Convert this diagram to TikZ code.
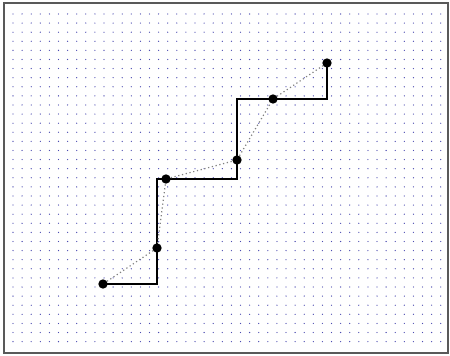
\documentclass[tikz,border=0pt]{standalone}
\begin{document}
\begin{tikzpicture}[x=0.75pt,y=-0.75pt,
  punto/.style={circle,fill=black,inner sep=0pt,minimum size=7pt}]
  \useasboundingbox (0,0) rectangle (450,356);
  \fill[white] (0,0) rectangle (450,356);
  % rejilla de puntos
  \foreach \i in {0,...,47}
    \foreach \j in {0,...,36}
      \fill[blue!40!gray] (13+9.1*\i,14+9.1*\j) circle (0.65);
  \draw[gray!70!black,line width=1.2] (4,3) rectangle (448,353);
  % puntos
  \node[punto] (p1) at (103,284) {};
  \node[punto] (p2) at (157,248) {};
  \node[punto] (p3) at (166,179) {};
  \node[punto] (p4) at (237,160) {};
  \node[punto] (p5) at (273,99) {};
  \node[punto] (p6) at (327,63) {};
  % escalones
  \draw[line width=1] (p1.center) -| (p2.center) |- (p3.center) -| (p4.center) |- (p5.center) -| (p6.center);
  % union directa
  \draw[gray,dotted,line width=0.9] (p1) -- (p2) -- (p3) -- (p4) -- (p5) -- (p6);
\end{tikzpicture}
\end{document}
